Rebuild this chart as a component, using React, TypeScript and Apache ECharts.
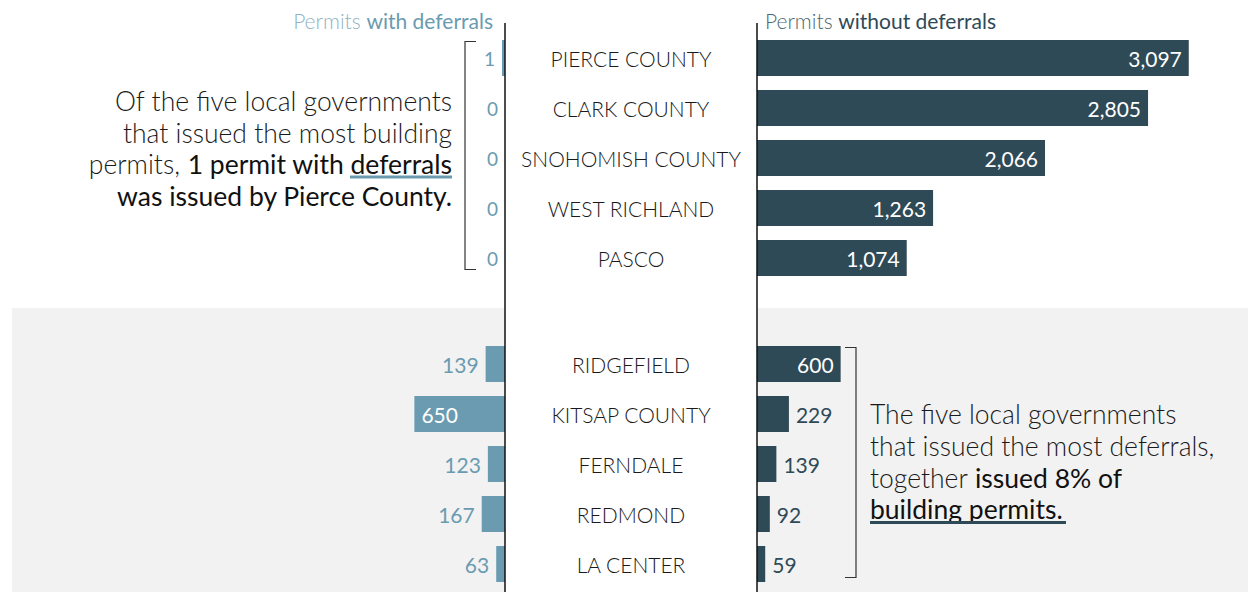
import React, { useEffect, useRef } from "react";
import * as echarts from "echarts";

const topNames = ["PIERCE COUNTY", "CLARK COUNTY", "SNOHOMISH COUNTY", "WEST RICHLAND", "PASCO"];
const topWith = [1, 0, 0, 0, 0];
const topWithout = [3097, 2805, 2066, 1263, 1074];
const bottomNames = ["RIDGEFIELD", "KITSAP COUNTY", "FERNDALE", "REDMOND", "LA CENTER"];
const bottomWith = [139, 650, 123, 167, 63];
const bottomWithout = [600, 229, 139, 92, 59];

const DARK = "#2f4a57";
const LIGHT = "#6a9bb0";
const FONT = "Lato";
const MAX = 3400;
const W = 474;
const LEFT_AXIS = 505;
const RIGHT_AXIS = 757;
const ANN = 26.5;
const HDR = 21;

const fmt = (p: any) => Number(p.value).toLocaleString("en-US");

function leftData(vals: number[], size: number) {
  return vals.map((v) => ({
    value: v,
    itemStyle: v === 0 ? { color: "rgba(0,0,0,0)" } : undefined,
    label: {
      position: v >= 500 ? "insideLeft" : "left",
      color: v >= 500 ? "#fff" : LIGHT,
      fontSize: size,
    },
  }));
}
function rightData(vals: number[]) {
  return vals.map((v) => ({
    value: v,
    label: {
      position: v >= 500 ? "insideRight" : "right",
      color: v >= 500 ? "#fff" : DARK,
    },
  }));
}

export default function App() {
  const ref = useRef<HTMLDivElement>(null);
  useEffect(() => {
    const chart = echarts.init(ref.current!, undefined, { renderer: "svg" });
    const grids = [
      { left: LEFT_AXIS - W, top: 33, width: W, height: 250 },
      { left: RIGHT_AXIS, top: 33, width: W, height: 250 },
      { left: LEFT_AXIS - W, top: 339, width: W, height: 250 },
      { left: RIGHT_AXIS, top: 339, width: W, height: 250 },
    ];
    const xAxes = grids.map((_, i) => ({
      type: "value",
      gridIndex: i,
      min: 0,
      max: MAX,
      inverse: i % 2 === 0,
      show: false,
    }));
    const yAxes = grids.map((_, i) => ({
      type: "category",
      gridIndex: i,
      inverse: true,
      data: i < 2 ? topNames : bottomNames,
      show: i % 2 === 1,
      axisLine: { show: false },
      axisTick: { show: false },
      splitLine: { show: false },
      axisLabel: {
        margin: RIGHT_AXIS - 631,
        align: "center",
        fontFamily: FONT,
        fontSize: 21,
        fontWeight: 300,
        color: "#1a1a1a",
      },
    }));
    const baseLabel = {
      show: true,
      fontFamily: FONT,
      fontSize: 21,
      distance: 7,
      formatter: fmt,
    };
    const series = [
      { data: leftData(topWith, 19), color: LIGHT, idx: 0, minH: 3 },
      { data: rightData(topWithout), color: DARK, idx: 1, minH: 0 },
      { data: leftData(bottomWith, 21), color: LIGHT, idx: 2, minH: 0 },
      { data: rightData(bottomWithout), color: DARK, idx: 3, minH: 0 },
    ].map((s) => ({
      type: "bar",
      xAxisIndex: s.idx,
      yAxisIndex: s.idx,
      barWidth: 36,
      barMinHeight: s.minH,
      itemStyle: { color: s.color },
      label: baseLabel,
      data: s.data,
    }));

    const lightTxt = (text: string, x: number, y: number, align: string) => ({
      type: "text",
      x,
      y,
      style: {
        text,
        fill: "#1a1a1a",
        fontFamily: FONT,
        fontSize: ANN,
        fontWeight: 300,
        align,
        verticalAlign: "middle",
      },
    });
    const richTxt = (text: string, x: number, y: number, align: string) => ({
      type: "text",
      x,
      y,
      style: {
        text,
        align,
        verticalAlign: "middle",
        fontFamily: FONT,
        fontSize: ANN,
        rich: {
          l: { fill: "#1a1a1a", fontFamily: FONT, fontSize: ANN, fontWeight: 300 },
          b: { fill: "#111", fontFamily: FONT, fontSize: ANN, fontWeight: 400 },
        },
      },
    });
    const lineStyle = { stroke: "#333", lineWidth: 1.2 };

    chart.setOption({
      animation: false,
      grid: grids,
      xAxis: xAxes,
      yAxis: yAxes,
      series,
      graphic: [
        { type: "rect", z: -10, shape: { x: 12, y: 308, width: LEFT_AXIS - 12, height: 284 }, style: { fill: "#f2f2f2" } },
        { type: "rect", z: -10, shape: { x: RIGHT_AXIS, y: 308, width: 1248 - RIGHT_AXIS, height: 284 }, style: { fill: "#f2f2f2" } },
        { type: "line", z: 10, shape: { x1: LEFT_AXIS, y1: 23, x2: LEFT_AXIS, y2: 592 }, style: { stroke: "#111", lineWidth: 1.5 } },
        { type: "line", z: 10, shape: { x1: RIGHT_AXIS, y1: 23, x2: RIGHT_AXIS, y2: 592 }, style: { stroke: "#111", lineWidth: 1.5 } },
        {
          type: "text", x: 493, y: 20,
          style: {
            text: "{l|Permits }{b|with deferrals}", align: "right", verticalAlign: "middle",
            fontFamily: FONT, fontSize: HDR,
            rich: {
              l: { fill: "#8fb3c3", fontFamily: FONT, fontSize: HDR, fontWeight: 300 },
              b: { fill: LIGHT, fontFamily: FONT, fontSize: HDR, fontWeight: 400 },
            },
          },
        },
        {
          type: "text", x: 765, y: 20,
          style: {
            text: "{l|Permits }{b|without deferrals}", align: "left", verticalAlign: "middle",
            fontFamily: FONT, fontSize: HDR,
            rich: {
              l: { fill: "#4d6672", fontFamily: FONT, fontSize: HDR, fontWeight: 300 },
              b: { fill: DARK, fontFamily: FONT, fontSize: HDR, fontWeight: 400 },
            },
          },
        },
        lightTxt("Of the five local governments", 452, 101, "right"),
        lightTxt("that issued the most building", 452, 133, "right"),
        richTxt("{l|permits, }{b|1 permit with deferrals}", 452, 164, "right"),
        richTxt("{b|was issued by Pierce County.}", 452, 196, "right"),
        { type: "rect", shape: { x: 350, y: 175.5, width: 102, height: 3 }, style: { fill: LIGHT } },
        lightTxt("The five local governments", 870, 414, "left"),
        lightTxt("that issued the most deferrals,", 870, 446, "left"),
        richTxt("{l|together }{b|issued 8% of}", 870, 478, "left"),
        richTxt("{b|building permits.}", 870, 509, "left"),
        { type: "rect", shape: { x: 870, y: 521, width: 196, height: 3 }, style: { fill: DARK } },
        { type: "polyline", shape: { points: [[476, 41.5], [465, 41.5], [465, 269.5], [476, 269.5]] }, style: { ...lineStyle, fill: null } },
        { type: "polyline", shape: { points: [[845, 347.5], [856, 347.5], [856, 577.5], [845, 577.5]] }, style: { ...lineStyle, fill: null } },
      ],
    });
    return () => chart.dispose();
  }, []);
  return (
    <div
      ref={ref}
      style={{ position: "fixed", left: 0, top: 0, width: 1248, height: 592, background: "#fff" }}
    />
  );
}
